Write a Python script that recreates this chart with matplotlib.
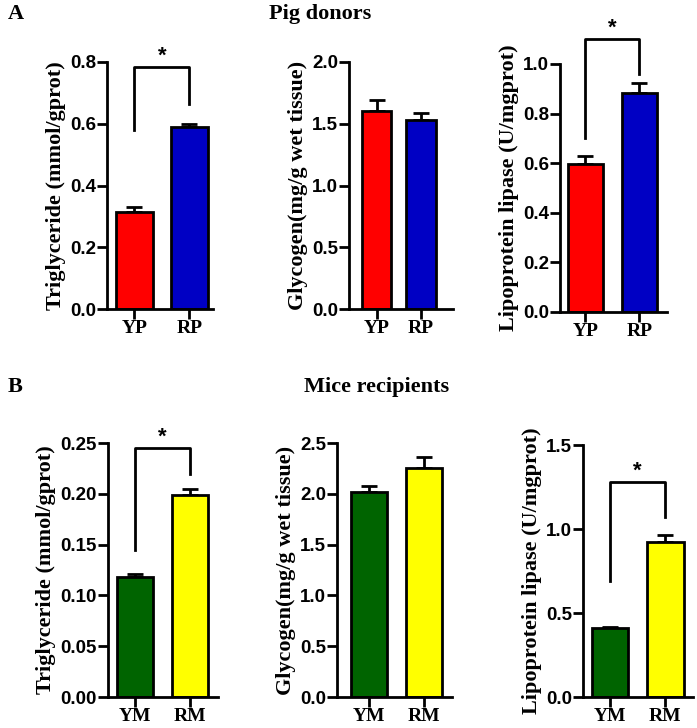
import matplotlib.pyplot as plt

# data
pig_groups = ['YP', 'RP']
mice_groups = ['YM', 'RM']

pig_tg = [0.313, 0.588]
pig_tg_err = [0.018, 0.012]
pig_gly = [1.60, 1.53]
pig_gly_err = [0.09, 0.06]
pig_lpl = [0.598, 0.885]
pig_lpl_err = [0.030, 0.038]

mice_tg = [0.118, 0.199]
mice_tg_err = [0.003, 0.006]
mice_gly = [2.02, 2.25]
mice_gly_err = [0.06, 0.11]
mice_lpl = [0.41, 0.92]
mice_lpl_err = [0.008, 0.045]

pig_colors = ['#ff0000', '#0000c4']
mice_colors = ['#006400', '#ffff00']

serif = 'Liberation Serif'
sans = 'Liberation Sans'

W, H = 697, 728
fig = plt.figure(figsize=(W / 100, H / 100), dpi=100)


def make_ax(x0, x1, ytop, ybot):
    return fig.add_axes([x0 / W, 1 - ybot / H, (x1 - x0) / W, (ybot - ytop) / H])


def panel(ax, groups, vals, errs, colors, ylabel, ymax, yticks, fmt, xlim, bracket=None):
    x = [0, 1]
    ax.bar(x, vals, width=0.66, color=colors, edgecolor='black', linewidth=2, zorder=2)
    ax.errorbar(x, vals, yerr=[[0, 0], errs], fmt='none', ecolor='black',
                elinewidth=2, capsize=6, capthick=2, zorder=1)
    ax.set_ylim(0, ymax)
    ax.set_xlim(*xlim)
    ax.set_yticks(yticks)
    ax.set_yticklabels([fmt.format(t) for t in yticks], fontfamily=sans,
                       fontweight='bold', fontsize=13.5)
    ax.set_xticks(x)
    ax.set_xticklabels(groups, fontfamily=serif, fontweight='bold', fontsize=14)
    ax.set_ylabel(ylabel, fontfamily=serif, fontweight='bold', fontsize=16, labelpad=3)
    for s in ['top', 'right']:
        ax.spines[s].set_visible(False)
    for s in ['left', 'bottom']:
        ax.spines[s].set_linewidth(2)
    ax.tick_params(width=2, length=7, direction='out')
    ax.tick_params(axis='y', pad=1)
    ax.tick_params(axis='x', pad=1)
    if bracket:
        top, lleg, rleg = bracket
        ax.plot([0, 0, 1, 1], [lleg, top, top, rleg], color='black', lw=2, clip_on=False)
        ax.text(0.5, top, '*', ha='center', va='bottom', fontsize=16,
                fontweight='bold', fontfamily=sans)


ax = make_ax(107, 213, 62, 309)
panel(ax, pig_groups, pig_tg, pig_tg_err, pig_colors, 'Triglyceride (mmol/gprot)',
      0.8, [0.0, 0.2, 0.4, 0.6, 0.8], '{:.1f}', (-0.5, 1.43), (0.785, 0.58, 0.665))

ax = make_ax(349, 453, 62, 309)
panel(ax, pig_groups, pig_gly, pig_gly_err, pig_colors, 'Glycogen(mg/g wet tissue)',
      2.0, [0.0, 0.5, 1.0, 1.5, 2.0], '{:.1f}', (-0.62, 1.72))

ax = make_ax(560, 667, 64, 312)
panel(ax, pig_groups, pig_lpl, pig_lpl_err, pig_colors, 'Lipoprotein lipase (U/mgprot)',
      1.0, [0.0, 0.2, 0.4, 0.6, 0.8, 1.0], '{:.1f}', (-0.47, 1.51), (1.10, 0.70, 0.96))

ax = make_ax(108, 218, 443, 697)
panel(ax, mice_groups, mice_tg, mice_tg_err, mice_colors, 'Triglyceride (mmol/gprot)',
      0.25, [0.0, 0.05, 0.10, 0.15, 0.20, 0.25], '{:.2f}', (-0.49, 1.51), (0.245, 0.145, 0.219))

ax = make_ax(337, 452, 443, 697)
panel(ax, mice_groups, mice_gly, mice_gly_err, mice_colors, 'Glycogen(mg/g wet tissue)',
      2.5, [0.0, 0.5, 1.0, 1.5, 2.0, 2.5], '{:.1f}', (-0.58, 1.51))

ax = make_ax(583, 693, 445, 697)
panel(ax, mice_groups, mice_lpl, mice_lpl_err, mice_colors, 'Lipoprotein lipase (U/mgprot)',
      1.5, [0.0, 0.5, 1.0, 1.5], '{:.1f}', (-0.49, 1.5), (1.28, 0.69, 1.07))

fig.text(8 / W, 1 - 14 / H, 'A', fontfamily=serif, fontweight='bold', fontsize=16, va='center')
fig.text(320 / W, 1 - 14 / H, 'Pig donors', fontfamily=serif, fontweight='bold',
         fontsize=16, ha='center', va='center')
fig.text(8 / W, 1 - 387 / H, 'B', fontfamily=serif, fontweight='bold', fontsize=16, va='center')
fig.text(377 / W, 1 - 387 / H, 'Mice recipients', fontfamily=serif, fontweight='bold',
         fontsize=16, ha='center', va='center')

fig.savefig('out.png', dpi=100)
